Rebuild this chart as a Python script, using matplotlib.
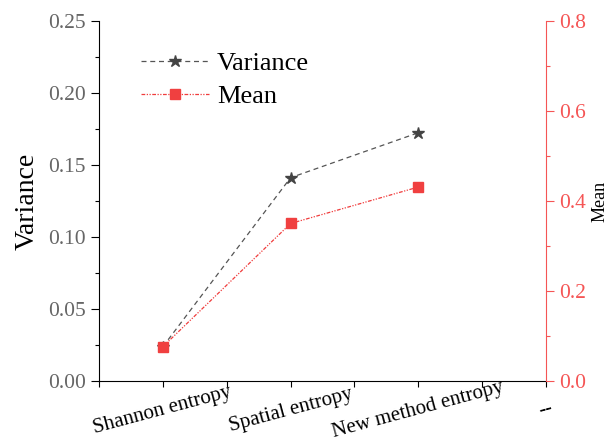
import matplotlib
matplotlib.use('Agg')
import matplotlib.pyplot as plt
from matplotlib.ticker import MultipleLocator, FormatStrFormatter

methods = ['Shannon entropy', 'Spatial entropy', 'New method entropy']
xlabels = ['Shannon entropy', 'Spatial entropy', 'New method entropy', '--']
variance = [0.0238, 0.1412, 0.1724]
mean = [0.0762, 0.350, 0.431]

plt.rcParams['font.family'] = 'serif'
plt.rcParams['font.serif'] = ['Liberation Serif', 'DejaVu Serif']

fig = plt.figure(figsize=(6.16, 4.44), dpi=100)
ax = fig.add_axes([0.1607, 0.1419, 0.7257, 0.8108])
ax2 = ax.twinx()

xs = [1, 2, 3]
l1, = ax.plot(xs, variance, ls=(0, (4, 3)), lw=0.9, color='#555555',
              marker='*', ms=9, mfc='#444444', mec='#444444', label='Variance')
l2, = ax2.plot(xs, mean, ls=(0, (3, 1.2, 1, 1.2, 1, 1.2)), lw=0.9, color='#f03c3c',
               marker='s', ms=6.5, mfc='#f04040', mec='#f04040', label='Mean')

ax.set_xlim(0.5, 4)
ax.set_xticks([1, 2, 3, 4])
ax.set_xticklabels(xlabels, rotation=15, ha='center', va='center',
                   rotation_mode='anchor', fontsize=15)
ax.xaxis.set_minor_locator(MultipleLocator(0.5))

ax.set_ylim(0, 0.25)
ax.yaxis.set_major_locator(MultipleLocator(0.05))
ax.yaxis.set_minor_locator(MultipleLocator(0.025))
ax.yaxis.set_major_formatter(FormatStrFormatter('%.2f'))
ax.tick_params(axis='y', labelsize=15.5, labelcolor='#666666', length=6, width=0.8)
ax.tick_params(axis='y', which='minor', length=3, width=0.8)
ax.tick_params(axis='x', which='both', length=4, width=0.8)
ax.tick_params(axis='x', which='major', pad=17)
ax.set_ylabel('Variance', fontsize=20, labelpad=6)

ax2.set_ylim(0, 0.8)
ax2.yaxis.set_major_locator(MultipleLocator(0.2))
ax2.yaxis.set_minor_locator(MultipleLocator(0.1))
ax2.yaxis.set_major_formatter(FormatStrFormatter('%.1f'))
ax2.tick_params(axis='y', labelsize=15.5, labelcolor='#f55555', color='#f55555',
                length=6, width=0.8)
ax2.tick_params(axis='y', which='minor', color='#f55555', length=3, width=0.8)
ax2.set_ylabel('Mean', fontsize=13, labelpad=4)

for a in (ax, ax2):
    a.spines['top'].set_visible(False)
ax.spines['right'].set_visible(False)
ax2.spines['left'].set_visible(False)
ax2.spines['bottom'].set_visible(False)
ax2.spines['right'].set_color('#f55555')
ax.spines['left'].set_linewidth(0.8)
ax.spines['bottom'].set_linewidth(0.8)

ax.legend([l1, l2], ['Variance', 'Mean'], loc='upper left', bbox_to_anchor=(0.04, 0.98),
          frameon=False, fontsize=19, handlelength=2.6, labelspacing=0.35,
          handletextpad=0.3)

fig.savefig('out.png', dpi=100)
